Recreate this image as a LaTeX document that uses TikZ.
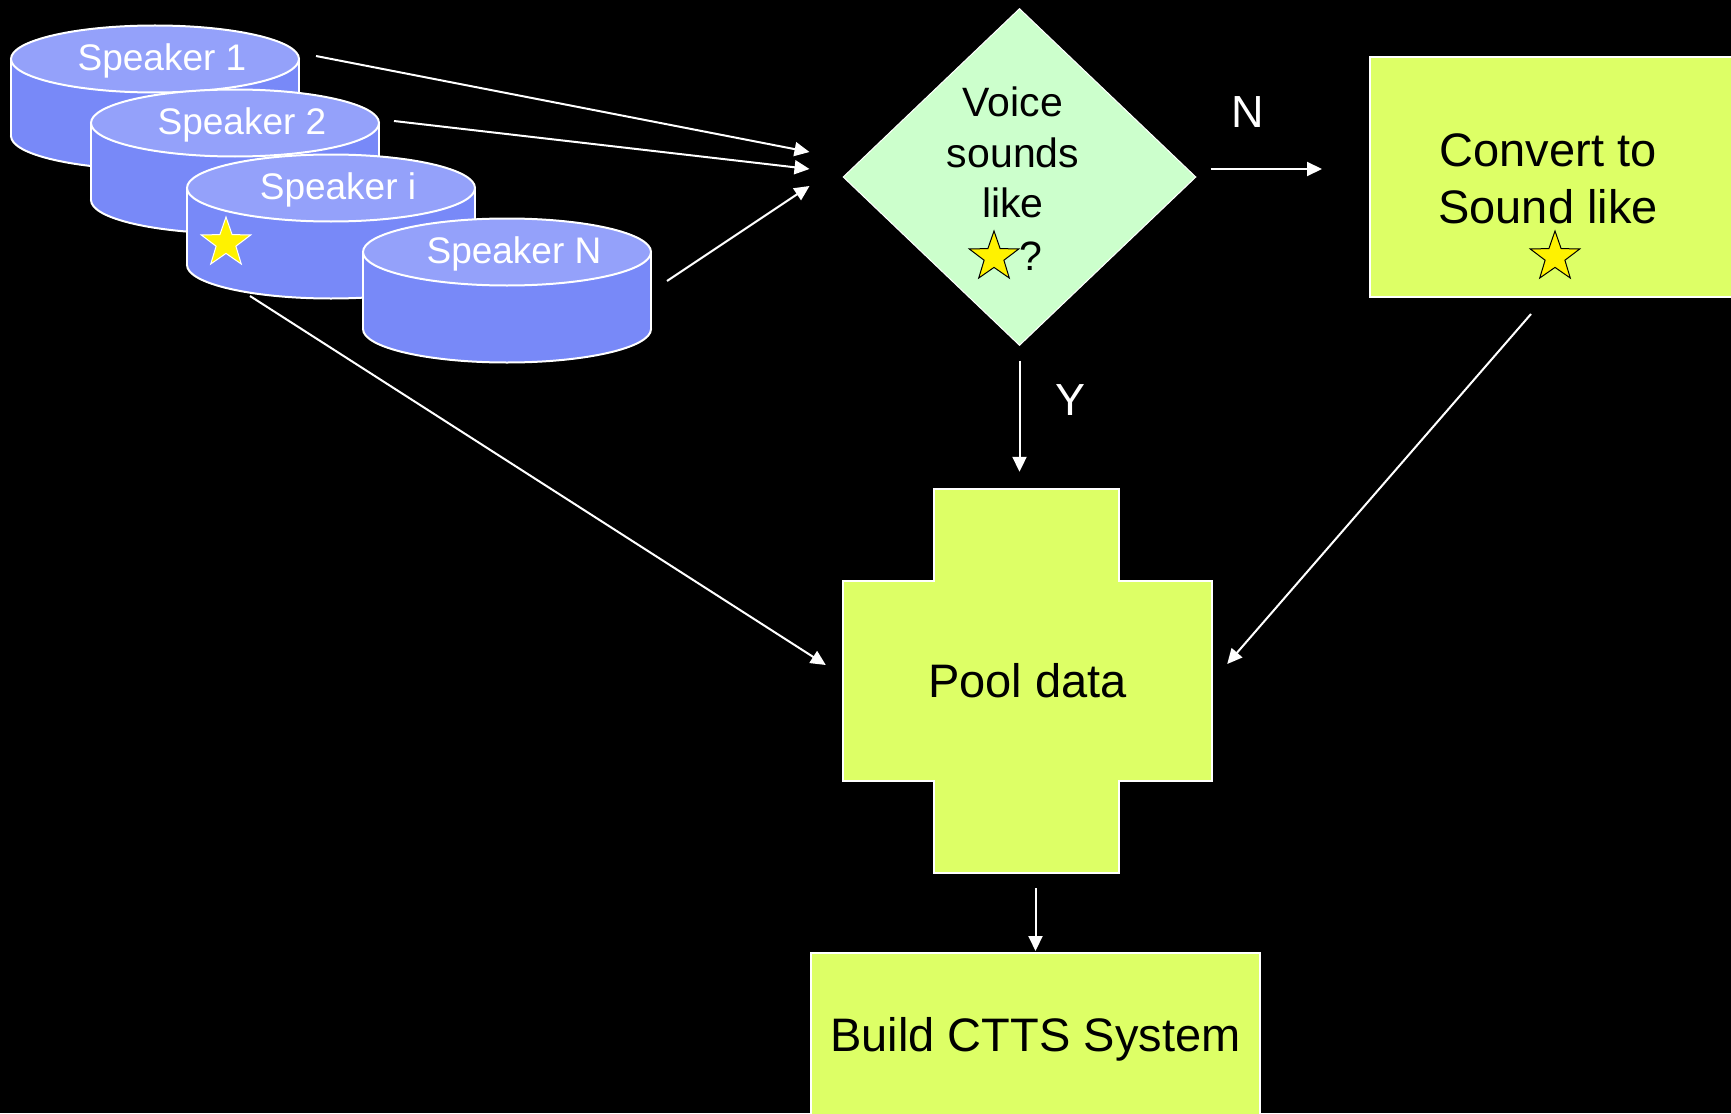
\documentclass[tikz,border=0pt]{standalone}
\usepackage{fontspec}
\setmainfont{Liberation Sans}
\usetikzlibrary{shapes.geometric,arrows.meta}
\definecolor{dbtop}{RGB}{148,161,250}
\definecolor{dbside}{RGB}{120,137,248}
\definecolor{chkgreen}{RGB}{204,255,204}
\definecolor{boxlime}{RGB}{221,255,102}
\begin{document}
\begin{tikzpicture}[x=1pt, y=-1pt, >={Triangle[length=15pt,width=14pt]},
    flow/.style={->, white, line width=2pt},
    spktext/.style={text=white, font=\fontsize{37}{44}\selectfont},
    procbox/.style={rectangle, draw=white, fill=boxlime, line width=2pt, inner sep=0pt},
    yellowstar/.style={star, star points=5, star point ratio=2.5, minimum size=52pt, inner sep=0pt, fill=yellow, draw=black, line width=1pt},
    yesno/.style={text=white, font=\fontsize{45}{54}\selectfont}]
    \useasboundingbox (0,0) rectangle (1731,1113);
    \clip (0,0) rectangle (1731,1113);
    \fill[black] (0,0) rectangle (1731,1113);
    % speaker databases
    \foreach \cx/\cy/\nm/\lbl in {155/59/spk1/Speaker 1, 235/123/spk2/Speaker 2, 331/188/spki/Speaker i, 507/252/spkN/Speaker N}{
        \filldraw[fill=dbside, draw=white, line width=2pt] (\cx,\cy+77) ellipse (144 and 33.5);
        \fill[dbside] (\cx-144,\cy) rectangle (\cx+144,\cy+77);
        \draw[white, line width=2pt] (\cx-144,\cy) -- (\cx-144,\cy+77) (\cx+144,\cy) -- (\cx+144,\cy+77);
        \filldraw[fill=dbtop, draw=white, line width=2pt] (\cx,\cy) ellipse (144 and 33.5);
        \coordinate (rim\nm) at (\cx+144,\cy);
        \coordinate (bot\nm) at (\cx,\cy+110.5);
        \node[spktext] (\nm) at (\cx+7,\cy+2) {\lbl};
    }
    \node[yellowstar, draw=white] (spkistar) at (226,243) {};
    % decision
    \node[diamond, minimum width=353pt, minimum height=337pt, inner sep=0pt, fill=chkgreen, draw=white, line width=1pt] (chk) at (1019.5,177) {};
    \node[align=center, font=\fontsize{41}{50.5}\selectfont] (chktxt) at (1013,152.5) {Voice\\sounds\\like};
    \node[yellowstar] (chkstar) at (994,257) {};
    \node[font=\fontsize{41}{50.5}\selectfont, inner sep=0pt] (chkq) at (1031,256) {?};
    % convert
    \node[procbox, minimum width=380pt, minimum height=240pt] (conv) at (1560,177) {};
    \node[align=center, font=\fontsize{47}{57}\selectfont] (convtxt) at (1548,178.5) {Convert to\\Sound like};
    \node[yellowstar] (convstar) at (1555,257) {};
    % pool
    \filldraw[fill=boxlime, draw=white, line width=2pt] (934,489) -- (1119,489) -- (1119,581) -- (1212,581) -- (1212,781) -- (1119,781) -- (1119,873) -- (934,873) -- (934,781) -- (843,781) -- (843,581) -- (934,581) -- cycle;
    \node[minimum width=369pt, minimum height=384pt, inner sep=0pt, font=\fontsize{47}{57}\selectfont] (pool) at (1027.5,681) {Pool data};
    % build
    \node[procbox, minimum width=449pt, minimum height=172pt, font=\fontsize{47}{57}\selectfont] (build) at (1035.5,1039) {Build CTTS System};
    % labels
    \node[yesno] (nlab) at (1248,112) {N};
    \node[yesno] (ylab) at (1070,400) {Y};
    % arrows
    \draw[flow] ([shift={(17,-3)}]rimspk1) -- ([shift={(-33,-25)}]chk.west);
    \draw[flow] ([shift={(15,-2)}]rimspk2) -- ([shift={(-33,-8)}]chk.west);
    \draw[flow] ([shift={(16,29)}]rimspkN) -- ([shift={(-33,9)}]chk.west);
    \draw[flow] ([shift={(-81,-2.5)}]botspki) -- ([shift={(-17,-16)}]pool.west);
    \draw[flow] ([shift={(0,14.5)}]chk.south) -- ([shift={(-8,-17)}]pool.north);
    \draw[flow] ([shift={(14,-8)}]chk.east) -- ([shift={(-47,-8)}]conv.west);
    \draw[flow] ([shift={(-29,16)}]conv.south) -- ([shift={(15,-17)}]pool.east);
    \draw[flow] ([shift={(8,15)}]pool.south) -- ([shift={(0,-1)}]build.north);
\end{tikzpicture}
\end{document}
